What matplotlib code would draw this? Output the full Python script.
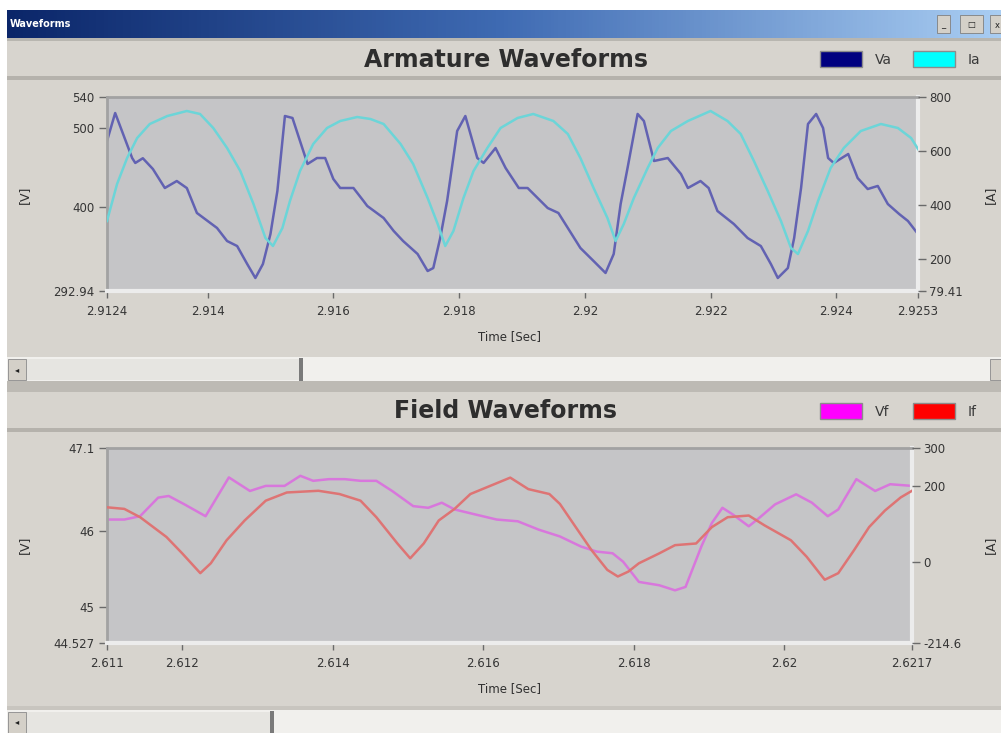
import matplotlib
matplotlib.use('Agg')
import matplotlib.pyplot as plt
import numpy as np
from matplotlib.patches import Rectangle
from matplotlib.colors import LinearSegmentedColormap

# ---------------- data ----------------
va_t = [2.91240, 2.91253, 2.91280, 2.91285, 2.91297, 2.91313, 2.91332, 2.91351, 2.91367, 2.91383,
        2.91415, 2.91431, 2.91447, 2.91463, 2.91476, 2.91488, 2.91500, 2.91511, 2.91523, 2.91535,
        2.91547, 2.91559, 2.91574, 2.91587, 2.91600, 2.91611, 2.91632, 2.91648, 2.91654, 2.91680,
        2.91696, 2.91711, 2.91734, 2.91750, 2.91759, 2.91770, 2.91781, 2.91797, 2.91810, 2.91829,
        2.91839, 2.91858, 2.91874, 2.91895, 2.91909, 2.91941, 2.91958, 2.91973, 2.91993, 2.92014,
        2.92033, 2.92046, 2.92057, 2.92068, 2.92084, 2.92094, 2.92110, 2.92132, 2.92153, 2.92164,
        2.92184, 2.92197, 2.92211, 2.92237, 2.92259, 2.92280, 2.92296, 2.92307, 2.92323, 2.92333,
        2.92344, 2.92355, 2.92368, 2.92379, 2.92387, 2.92396, 2.92419, 2.92434, 2.92450, 2.92466,
        2.92482, 2.92500, 2.92514, 2.92530]
va_v = [484, 519.6, 462.3, 456, 462, 448.3, 424.1, 433, 424, 392.3,
        373.2, 356.6, 350.2, 327.3, 309.5, 327.3, 365.5, 420.3, 515.8, 513.3,
        484, 454.7, 462.3, 462.3, 435.6, 424.1, 424.1, 407.6, 401.2, 385.9,
        369.4, 356.6, 340.1, 318.4, 322.2, 360.4, 407.6, 496.7, 515.8, 462.3,
        456, 475, 449.6, 424.1, 424.1, 398.6, 392.3, 373.2, 347.7, 331.1,
        315.9, 340.1, 403.7, 449.6, 518.4, 509.4, 458.5, 462.3, 441.9, 424.1,
        433, 424.1, 394.8, 378.3, 360.4, 350.2, 327.3, 309.5, 322.2, 360.4,
        424.1, 505.6, 518.4, 500.5, 462.3, 456, 467.4, 436.8, 422.8, 426.7,
        403.7, 391, 382.1, 365.5]

ia_t = [2.91240, 2.91256, 2.91272, 2.91288, 2.91308, 2.91336, 2.91367, 2.91388, 2.91409, 2.91431,
        2.91452, 2.91473, 2.91492, 2.91504, 2.91519, 2.91531, 2.91547, 2.91568, 2.91590, 2.91611,
        2.91638, 2.91659, 2.91680, 2.91707, 2.91727, 2.91750, 2.91766, 2.91778, 2.91791, 2.91807,
        2.91823, 2.91845, 2.91866, 2.91893, 2.91918, 2.91950, 2.91973, 2.91993, 2.92014, 2.92036,
        2.92049, 2.92062, 2.92078, 2.92100, 2.92116, 2.92137, 2.92164, 2.92200, 2.92227, 2.92248,
        2.92269, 2.92291, 2.92312, 2.92328, 2.92339, 2.92355, 2.92371, 2.92391, 2.92412, 2.92439,
        2.92471, 2.92498, 2.92519, 2.92530]
ia_i = [339.4, 476.8, 573.4, 647.7, 699.7, 729.4, 748, 736.9, 684.9, 610.6,
        525.1, 402.6, 276.3, 246.6, 313.4, 413.7, 525.1, 625.4, 684.9, 710.9,
        725.7, 718.3, 699.7, 625.4, 551.1, 424.8, 328.3, 246.6, 302.3, 424.8,
        525.1, 610.6, 684.9, 722, 736.9, 710.9, 662.6, 573.4, 462, 350.6,
        265.1, 328.3, 424.8, 536.3, 610.6, 673.7, 710.9, 748, 710.9, 662.6,
        562.3, 450.8, 339.4, 239.1, 216.8, 302.3, 413.7, 536.3, 610.6, 673.7,
        699.7, 684.9, 647.7, 606.9]

vf_t = [2.61100, 2.61123, 2.61144, 2.61168, 2.61182, 2.61203, 2.61231, 2.61262, 2.61290, 2.61311,
        2.61336, 2.61357, 2.61374, 2.61395, 2.61416, 2.61437, 2.61458, 2.61479, 2.61507, 2.61527,
        2.61545, 2.61562, 2.61590, 2.61618, 2.61646, 2.61674, 2.61702, 2.61730, 2.61751, 2.61772,
        2.61786, 2.61807, 2.61834, 2.61855, 2.61869, 2.61890, 2.61904, 2.61918, 2.61932, 2.61953,
        2.61967, 2.61988, 2.62016, 2.62037, 2.62058, 2.62072, 2.62096, 2.62121, 2.62141, 2.62170]
vf_v = [46.156, 46.156, 46.2, 46.445, 46.467, 46.356, 46.2, 46.712, 46.533, 46.6,
        46.6, 46.733, 46.667, 46.689, 46.689, 46.667, 46.667, 46.533, 46.333, 46.311,
        46.378, 46.289, 46.222, 46.156, 46.133, 46.022, 45.933, 45.8, 45.733, 45.711,
        45.6, 45.333, 45.289, 45.222, 45.267, 45.8, 46.111, 46.311, 46.222, 46.067,
        46.178, 46.356, 46.489, 46.378, 46.2, 46.289, 46.689, 46.533, 46.622, 46.6]

if_t = [2.61100, 2.61123, 2.61144, 2.61179, 2.61200, 2.61224, 2.61238, 2.61259, 2.61283, 2.61311,
        2.61339, 2.61381, 2.61409, 2.61437, 2.61458, 2.61486, 2.61503, 2.61521, 2.61541, 2.61562,
        2.61583, 2.61604, 2.61636, 2.61660, 2.61688, 2.61702, 2.61723, 2.61744, 2.61765, 2.61779,
        2.61793, 2.61807, 2.61834, 2.61855, 2.61883, 2.61904, 2.61925, 2.61953, 2.61974, 2.62009,
        2.62030, 2.62054, 2.62072, 2.62093, 2.62113, 2.62134, 2.62155, 2.62170]
if_i = [143.5, 139.3, 117.4, 65.2, 21.9, -30.3, -4.2, 56.6, 108.8, 161,
        182.6, 187.1, 178.5, 161, 117.4, 48, 8.9, 48, 108.8, 139.3,
        178.5, 195.7, 221.8, 191.5, 178.5, 152.4, 91.3, 30.5, -21.7, -39.1,
        -26.1, -4.2, 21.9, 43.6, 48, 91.3, 117.4, 121.8, 95.8, 56.6,
        13, -47.7, -30.3, 30.5, 91.3, 134.9, 169.6, 187.1]

top_xticks = [2.9124, 2.914, 2.916, 2.918, 2.92, 2.922, 2.924, 2.9253]
top_xlabels = ['2.9124', '2.914', '2.916', '2.918', '2.92', '2.922', '2.924', '2.9253']
top_lticks = [292.94, 400, 500, 540]
top_llabels = ['292.94', '400', '500', '540']
top_rticks = [79.41, 200, 400, 600, 800]
top_rlabels = ['79.41', '200', '400', '600', '800']

bot_xticks = [2.611, 2.612, 2.614, 2.616, 2.618, 2.62, 2.6217]
bot_xlabels = ['2.611', '2.612', '2.614', '2.616', '2.618', '2.62', '2.6217']
bot_lticks = [44.527, 45, 46, 47.1]
bot_llabels = ['44.527', '45', '46', '47.1']
bot_rticks = [-214.6, 0, 200, 300]
bot_rlabels = ['-214.6', '0', '200', '300']

# ---------------- figure ----------------
W, H = 1001, 733
PANEL = '#d7d4ce'
PLOTBG = '#c5c5c7'
fig = plt.figure(figsize=(W / 100, H / 100), dpi=100)
fig.patch.set_facecolor(PANEL)

bg = fig.add_axes([0, 0, 1, 1])
bg.set_axis_off()


def rect(x0, y0, x1, y1, fc, ec='none', lw=0):
    bg.add_patch(Rectangle((x0, y0), x1 - x0, y1 - y0, facecolor=fc, edgecolor=ec, linewidth=lw))


# white margins
rect(0, 0, W, 10, 'white')
rect(0, 0, 7, H, 'white')
# title bar gradient
cmap = LinearSegmentedColormap.from_list('tb', ['#0b2669', '#3f6bb3', '#a9cdf2'])
bg.imshow(np.linspace(0, 1, 256)[None, :], extent=(7, W, 38, 10), cmap=cmap, aspect='auto', zorder=1)
bg.text(10, 24, 'Waveforms', color='white', fontsize=7, fontweight='bold', va='center', ha='left', zorder=3)
for bx0, bx1, s in [(937, 950, '_'), (960, 983, '□'), (990, 1005, 'x')]:
    rect(bx0, 15, bx1, 33, '#d4d0c8', ec='#808080', lw=0.6)
    bg.text((bx0 + bx1) / 2, 25, s, fontsize=6, ha='center', va='center', color='#202020')
rect(7, 38, W, 41, '#b8b6b0')
# top panel header separator
rect(7, 76, W, 80, '#b5b2ac')
# top scrollbar
rect(7, 357, W, 381, '#f1f0ed')
rect(26, 359, 300, 380, '#e6e5e1')
rect(8, 359, 26, 380, '#d4d0c8', ec='#8a8a8a', lw=0.6)
bg.text(17, 369.5, '◂', fontsize=6, ha='center', va='center', color='#202020')
rect(299, 358, 303, 381, '#7a7a7a')
rect(990, 359, W, 380, '#d4d0c8', ec='#8a8a8a', lw=0.6)
rect(7, 381, W, 392, '#bdbab4')
# bottom panel header separator
rect(7, 428, W, 432, '#b5b2ac')
# bottom scrollbar
rect(7, 710, W, H, '#f1f0ed')
rect(26, 712, 271, H, '#e6e5e1')
rect(8, 712, 26, H, '#d4d0c8', ec='#8a8a8a', lw=0.6)
bg.text(17, 722, '◂', fontsize=6, ha='center', va='center', color='#202020')
rect(270, 711, 274, H, '#7a7a7a')
rect(7, 706, W, 710, '#c8c5bf')

# panel titles & legends
TXT = '#2e2e2e'
bg.text(506, 60, 'Armature Waveforms', fontsize=17, fontweight='bold', color=TXT, ha='center', va='center')
bg.text(506, 411, 'Field Waveforms', fontsize=17, fontweight='bold', color=TXT, ha='center', va='center')
for (x0, y0, c, lab) in [(820, 51, '#000080', 'Va'), (913, 51, '#00ffff', 'Ia'),
                         (820, 403, '#ff00ff', 'Vf'), (913, 403, '#ff0000', 'If')]:
    rect(x0, y0, x0 + 42, y0 + 16, c, ec='#8c8c8c', lw=1.0)
    bg.text(x0 + 55, y0 + 8.5, lab, fontsize=10, color='#3a3a3a', ha='left', va='center')

# axis titles
for y in (337, 689):
    bg.text(510, y, 'Time [Sec]', fontsize=8.5, color='#303030', ha='center', va='center')
for y in (195, 545):
    bg.text(24, y, '[V]', fontsize=9, color='#303030', ha='center', va='center', rotation=90)
    bg.text(990, y, '[A]', fontsize=9, color='#303030', ha='center', va='center', rotation=90)

bg.set_xlim(0, W)
bg.set_ylim(H, 0)

LAB = dict(labelsize=8.5, labelcolor='#353535', colors='#6a6a6a')


def make_axes(x0, y0, x1, y1):
    ax = fig.add_axes([x0 / W, 1 - y1 / H, (x1 - x0) / W, (y1 - y0) / H])
    ax.set_facecolor(PLOTBG)
    ax.spines['top'].set_color('#a2a2a2')
    ax.spines['left'].set_color('#a2a2a2')
    ax.spines['top'].set_linewidth(2)
    ax.spines['left'].set_linewidth(2)
    ax.spines['bottom'].set_color('#ececec')
    ax.spines['right'].set_color('#ececec')
    ax.spines['bottom'].set_linewidth(3)
    ax.spines['right'].set_linewidth(3)
    ax.tick_params(axis='x', direction='out', length=5, width=1, pad=5, **LAB)
    ax.tick_params(axis='y', direction='out', length=6, width=1, pad=3, **LAB)
    axr = ax.twinx()
    for s in axr.spines.values():
        s.set_visible(False)
    axr.tick_params(axis='y', direction='out', length=6, width=1, pad=2, **LAB)
    return ax, axr


# ---- top panel ----
ax1, ax1r = make_axes(107, 97, 918, 291)
ax1.plot(va_t, va_v, color='#6262b2', lw=1.8, solid_joinstyle='round')
ax1r.plot(ia_t, ia_i, color='#6cd5d8', lw=1.8, solid_joinstyle='round')
ax1.set_xlim(2.9124, 2.9253)
ax1.set_ylim(292.94, 540)
ax1r.set_ylim(79.41, 800)
ax1.set_xticks(top_xticks)
ax1.set_xticklabels(top_xlabels)
ax1.set_yticks(top_lticks)
ax1.set_yticklabels(top_llabels)
ax1r.set_yticks(top_rticks)
ax1r.set_yticklabels(top_rlabels)

# ---- bottom panel ----
ax2, ax2r = make_axes(107, 448, 912, 643)
ax2.plot(vf_t, vf_v, color='#d877dc', lw=1.8, solid_joinstyle='round')
ax2r.plot(if_t, if_i, color='#de7474', lw=1.8, solid_joinstyle='round')
ax2.set_xlim(2.611, 2.6217)
ax2.set_ylim(44.527, 47.1)
ax2r.set_ylim(-214.6, 300)
ax2.set_xticks(bot_xticks)
ax2.set_xticklabels(bot_xlabels)
ax2.set_yticks(bot_lticks)
ax2.set_yticklabels(bot_llabels)
ax2r.set_yticks(bot_rticks)
ax2r.set_yticklabels(bot_rlabels)

fig.savefig('out.png', dpi=100, facecolor=fig.get_facecolor())
